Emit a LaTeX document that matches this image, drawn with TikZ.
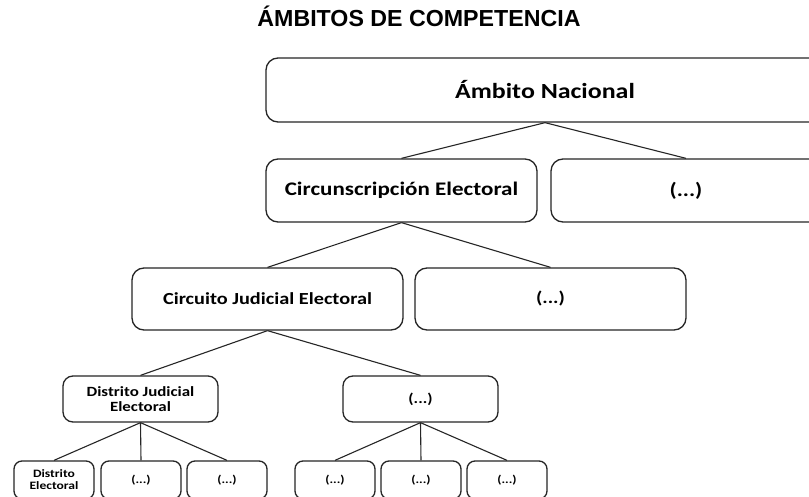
\documentclass[tikz,border=0pt]{standalone}
\usepackage{fontspec}
\setmainfont{Carlito}
\newfontfamily\boxfont[FakeStretch=1.2]{Carlito}
\newfontfamily\titlefont{Liberation Sans}
\tikzset{
  box/.style={draw=black!85, line width=1.3pt, rounded corners=#1, inner sep=0pt,
    font=\boxfont\bfseries, align=center, text=black},
  box/.default=12pt,
  link/.style={draw=black!85, line width=1.1pt},
  fa/.style={font=\boxfont\bfseries\fontsize{21.6}{24}\selectfont},
  fb/.style={font=\boxfont\bfseries\fontsize{19.2}{22}\selectfont},
  fc/.style={font=\boxfont\bfseries\fontsize{16.9}{20}\selectfont},
  fd/.style={font=\boxfont\bfseries\fontsize{14.1}{15.5}\selectfont},
  fe/.style={font=\boxfont\bfseries\fontsize{11.3}{12}\selectfont},
}
\begin{document}
\begin{tikzpicture}[x=1pt,y=-1pt]
\useasboundingbox (0,0) rectangle (809,497);
\fill[white] (0,0) rectangle (809,497);
\clip (0,0) rectangle (809,497);
% title
\node[anchor=base, inner sep=0pt, font=\titlefont\bfseries\fontsize{23.2}{26}\selectfont] (title) at (419,27) {ÁMBITOS DE COMPETENCIA};
% level 1
\node[box, fa, minimum width=558pt, minimum height=64pt] (root) at (545,90) {Ámbito Nacional};
% level 2
\node[box, fb, minimum width=271pt, minimum height=63pt] (c2a) at (401.5,190.5) {Circunscripción Electoral};
\node[box, fb, minimum width=270pt, minimum height=63pt] (c2b) at (686,190.5) {(...)};
% level 3
\node[box, fc, minimum width=271pt, minimum height=62pt] (c3a) at (267.5,299) {Circuito Judicial Electoral};
\node[box, fc, minimum width=271pt, minimum height=62pt] (c3b) at (550.5,299) {(...)};
% level 4
\node[box=10pt, fd, minimum width=155pt, minimum height=46pt] (c4a) at (140.5,399) {Distrito Judicial\\Electoral};
\node[box=10pt, fd, minimum width=155pt, minimum height=46pt] (c4b) at (420.5,399) {(...)};
% level 5
\foreach \n/\x/\t in {d1/54/{Distrito\\Electoral}, d2/141/{(...)}, d3/227/{(...)}, d4/335/{(...)}, d5/421/{(...)}, d6/507/{(...)}}{
  \node[box=8pt, fe, minimum width=80pt, minimum height=38pt] (\n) at (\x,480) {\t};
}
% connectors
\draw[link] (root.south) -- (c2a.north);
\draw[link] (root.south) -- (c2b.north);
\draw[link] (c2a.south) -- (c3a.north);
\draw[link] (c2a.south) -- (c3b.north);
\draw[link] (c3a.south) -- (c4a.north);
\draw[link] (c3a.south) -- (c4b.north);
\foreach \c in {d1,d2,d3}{\draw[link] (c4a.south) -- (\c.north);}
\foreach \c in {d4,d5,d6}{\draw[link] (c4b.south) -- (\c.north);}
\end{tikzpicture}
\end{document}
